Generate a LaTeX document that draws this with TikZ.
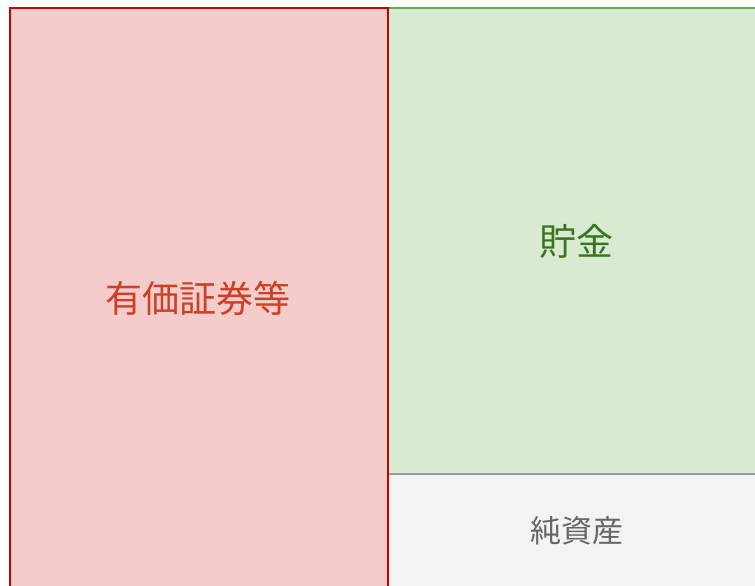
\documentclass[tikz,border=0pt]{standalone}
\usepackage{fontspec}
\newfontfamily\cjk{Noto Sans CJK JP}
\definecolor{redfill}{HTML}{F4CCCC}
\definecolor{redline}{HTML}{CC0000}
\definecolor{redtext}{HTML}{CC4125}
\definecolor{greenfill}{HTML}{D9EAD3}
\definecolor{greenline}{HTML}{6AA84F}
\definecolor{greentext}{HTML}{38761D}
\definecolor{greyfill}{HTML}{F3F3F3}
\definecolor{greyline}{HTML}{999999}
\definecolor{greytext}{HTML}{666666}
\tikzset{
  box/.style={line width=2pt},
  lbl/.style={font=\cjk\fontsize{37}{41}\selectfont, inner sep=0pt},
}
\begin{document}
\begin{tikzpicture}[x=1pt,y=-1pt]
\useasboundingbox (0,0) rectangle (755,586);
\begin{scope}
\clip (0,0) rectangle (755,586);
\draw[box, draw=greenline, fill=greenfill] (388,8) rectangle (770,474);
\draw[box, draw=greyline, fill=greyfill] (388,474) rectangle (770,600);
\draw[box, draw=redline, fill=redfill] (10,8) rectangle (388,600);
\end{scope}
\node[lbl, text=redtext] (sec) at (197.5,298) {有価証券等};
\node[lbl, text=greentext] (sav) at (576,241) {貯金};
\node[lbl, text=greytext, font=\cjk\fontsize{31}{35}\selectfont] (net) at (577,531) {純資産};
\end{tikzpicture}
\end{document}
